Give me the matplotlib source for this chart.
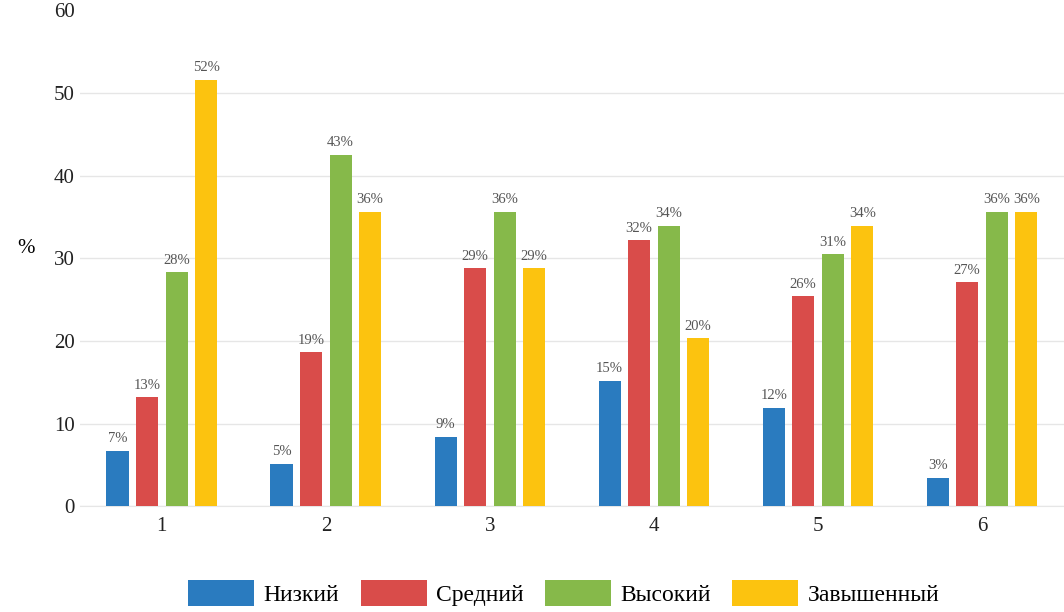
import matplotlib.pyplot as plt
import numpy as np

plt.rcParams['font.family'] = ['Liberation Serif', 'DejaVu Serif']

groups = ['1', '2', '3', '4', '5', '6']
series_names = ['Низкий', 'Средний', 'Высокий', 'Завышенный']
low = [6.7, 5.1, 8.4, 15.2, 11.9, 3.4]
mid = [13.2, 18.6, 28.8, 32.2, 25.4, 27.1]
high = [28.3, 42.5, 35.6, 33.9, 30.5, 35.6]
inflated = [51.6, 35.6, 28.8, 20.3, 33.9, 35.6]
labels_low = ['7%', '5%', '9%', '15%', '12%', '3%']
labels_mid = ['13%', '19%', '29%', '32%', '26%', '27%']
labels_high = ['28%', '43%', '36%', '34%', '31%', '36%']
labels_inf = ['52%', '36%', '29%', '20%', '34%', '36%']

colors = ['#2a7bbf', '#d94c4a', '#86b94a', '#fcc30f']
data = [low, mid, high, inflated]
bar_labels = [labels_low, labels_mid, labels_high, labels_inf]

fig = plt.figure(figsize=(10.64, 6.12), dpi=100)
ax = fig.add_axes([0.075, 0.173, 0.925, 0.81])

x = np.arange(len(groups))
width = 0.135
pitch = 0.18
for i, (vals, name, col, labs) in enumerate(zip(data, series_names, colors, bar_labels)):
    bars = ax.bar(x + (i - 1.5) * pitch, vals, width, color=col, label=name, zorder=3)
    ax.bar_label(bars, labels=labs, padding=4, fontsize=10.5, color='#555555')

ax.set_xlim(-0.5, 5.5)
ax.set_ylim(0, 60)
ax.set_yticks(range(0, 61, 10))
ax.set_xticks(x)
ax.set_xticklabels(groups)
ax.tick_params(axis='both', length=0, labelsize=15, colors='#222222')
ax.tick_params(axis='x', pad=8)
ax.grid(axis='y', color='#e6e6e6', linewidth=1, zorder=0)
ax.yaxis.get_gridlines()[-1].set_visible(False)
for s in ['top', 'right', 'left']:
    ax.spines[s].set_visible(False)
ax.spines['bottom'].set_color('#e6e6e6')
ax.set_ylabel('%', rotation=0, fontsize=15, labelpad=20)
ax.yaxis.set_label_coords(-0.055, 0.5)

fig.legend(loc='lower center', bbox_to_anchor=(0.53, -0.025), ncol=4, frameon=False,
           fontsize=17, handlelength=2.8, handleheight=1.3, columnspacing=0.9,
           handletextpad=0.4)

fig.savefig('out.png', dpi=100)
